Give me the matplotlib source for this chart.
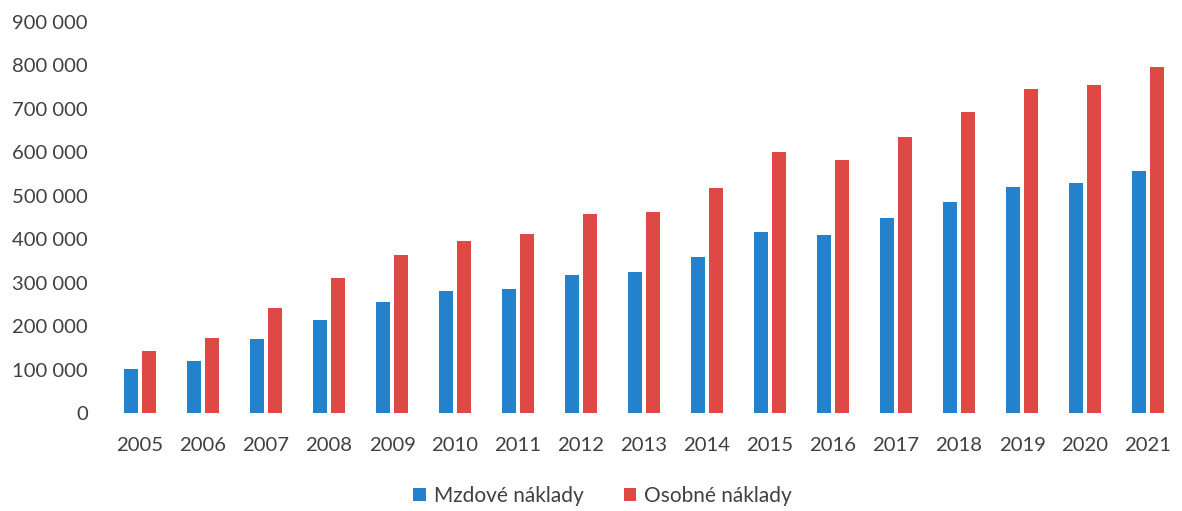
import numpy as np
import matplotlib.pyplot as plt
from matplotlib.ticker import FuncFormatter

# Data
years = ['2005', '2006', '2007', '2008', '2009', '2010', '2011', '2012', '2013',
         '2014', '2015', '2016', '2017', '2018', '2019', '2020', '2021']
mzdove = [101000, 121000, 171000, 215000, 257000, 281000, 285000, 319000, 324000,
          359000, 416000, 410000, 449000, 487000, 521000, 529000, 558000]
osobne = [144000, 174000, 242000, 312000, 364000, 397000, 412000, 458000, 464000,
          518000, 600000, 583000, 636000, 693000, 745000, 754000, 797000]

plt.rcParams['font.family'] = ['Lato', 'DejaVu Sans']
text_color = '#404040'

fig = plt.figure(figsize=(11.82, 5.11), dpi=100)
ax = fig.add_axes([108.5 / 1182, 0.191, 1071 / 1182, 0.766])

x = np.arange(len(years))
w = 0.22
ax.bar(x - 0.143, mzdove, w, color='#2481cc', label='Mzdové náklady')
ax.bar(x + 0.143, osobne, w, color='#de4946', label='Osobné náklady')

ax.set_xlim(-0.5, len(years) - 0.5)
ax.set_ylim(0, 900000)
ax.set_yticks(np.arange(0, 900001, 100000))
ax.yaxis.set_major_formatter(FuncFormatter(lambda v, p: f'{int(v):,}'.replace(',', ' ')))
ax.set_xticks(x)
ax.set_xticklabels(years)

for s in ax.spines.values():
    s.set_visible(False)
ax.tick_params(axis='both', length=0, labelsize=14.6, colors=text_color)
ax.tick_params(axis='y', pad=15)
ax.tick_params(axis='x', pad=17)

leg = fig.legend(loc='center', bbox_to_anchor=(0.51, 0.03), ncol=2, frameon=False,
                 fontsize=15, handlelength=0.6, handleheight=0.6, columnspacing=1.9,
                 handletextpad=0.4)
for t in leg.get_texts():
    t.set_color(text_color)

plt.savefig('out.png', dpi=100)
